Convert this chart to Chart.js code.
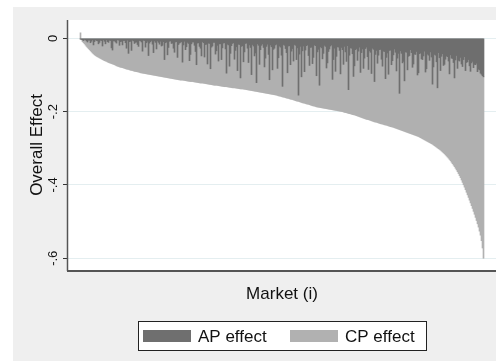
<!DOCTYPE html>
<html>
<head>
<meta charset="utf-8">
<script src="https://cdn.jsdelivr.net/npm/chart.js@4/dist/chart.umd.min.js"></script>
<style>
  html, body { margin: 0; padding: 0; background: #ffffff; }
  canvas { display: block; }
</style>
</head>
<body>
<canvas id="effectChart" width="496" height="361"></canvas>
<script>
// Overall effect per market (sorted)
const overallEffect = [
   0.015, -0.004, -0.009, -0.012, -0.015, -0.0185, -0.022, -0.025, -0.028, -0.031,
  -0.034, -0.037, -0.040, -0.0425, -0.045, -0.047, -0.049, -0.0505, -0.052, -0.0535,
  -0.055, -0.0565, -0.058, -0.0595, -0.061, -0.062, -0.063, -0.0645, -0.066, -0.067,
  -0.068, -0.069, -0.070, -0.071, -0.072, -0.0735, -0.075, -0.076, -0.077, -0.078,
  -0.079, -0.0795, -0.080, -0.081, -0.082, -0.083, -0.084, -0.0845, -0.085, -0.086,
  -0.087, -0.0875, -0.088, -0.089, -0.090, -0.0905, -0.091, -0.0915, -0.092, -0.093,
  -0.094, -0.0945, -0.095, -0.0955, -0.096, -0.0965, -0.097, -0.0975, -0.098, -0.0985,
  -0.099, -0.0995, -0.100, -0.1005, -0.101, -0.1015, -0.102, -0.1025, -0.103, -0.1035,
  -0.104, -0.1045, -0.105, -0.1055, -0.106, -0.1065, -0.107, -0.1075, -0.108, -0.1085,
  -0.109, -0.1095, -0.110, -0.1105, -0.111, -0.1115, -0.112, -0.1125, -0.113, -0.1135,
  -0.114, -0.114, -0.114, -0.1145, -0.115, -0.1155, -0.116, -0.1165, -0.117, -0.1175,
  -0.118, -0.118, -0.118, -0.1185, -0.119, -0.1195, -0.120, -0.1205, -0.121, -0.1215,
  -0.122, -0.122, -0.122, -0.1225, -0.123, -0.1235, -0.124, -0.1245, -0.125, -0.1255,
  -0.126, -0.1265, -0.127, -0.1275, -0.128, -0.128, -0.128, -0.1285, -0.129, -0.1295,
  -0.130, -0.1305, -0.131, -0.1315, -0.132, -0.132, -0.132, -0.1325, -0.133, -0.1335,
  -0.134, -0.1345, -0.135, -0.135, -0.135, -0.1355, -0.136, -0.1365, -0.137, -0.1375,
  -0.138, -0.138, -0.138, -0.1385, -0.139, -0.1395, -0.140, -0.1405, -0.141, -0.1415,
  -0.142, -0.1425, -0.143, -0.1435, -0.144, -0.1445, -0.145, -0.1455, -0.146, -0.1465,
  -0.147, -0.1475, -0.148, -0.1485, -0.149, -0.1495, -0.150, -0.1505, -0.151, -0.1515,
  -0.152, -0.1525, -0.153, -0.1535, -0.154, -0.1545, -0.155, -0.156, -0.157, -0.1575,
  -0.158, -0.159, -0.160, -0.1605, -0.161, -0.162, -0.163, -0.1635, -0.164, -0.165,
  -0.166, -0.1665, -0.167, -0.168, -0.169, -0.170, -0.171, -0.1715, -0.172, -0.173,
  -0.174, -0.175, -0.176, -0.1765, -0.177, -0.178, -0.179, -0.1795, -0.180, -0.181,
  -0.182, -0.183, -0.184, -0.1845, -0.185, -0.186, -0.187, -0.1875, -0.188, -0.1885,
  -0.189, -0.1895, -0.190, -0.1905, -0.191, -0.1915, -0.192, -0.1925, -0.193, -0.1935,
  -0.194, -0.1945, -0.195, -0.1955, -0.196, -0.1965, -0.197, -0.1975, -0.198, -0.1985,
  -0.199, -0.1995, -0.200, -0.201, -0.202, -0.2025, -0.203, -0.204, -0.205, -0.2055,
  -0.206, -0.207, -0.208, -0.2085, -0.209, -0.210, -0.211, -0.212, -0.213, -0.214,
  -0.215, -0.216, -0.217, -0.218, -0.219, -0.220, -0.221, -0.2215, -0.222, -0.223,
  -0.224, -0.225, -0.226, -0.227, -0.228, -0.2285, -0.229, -0.230, -0.231, -0.232,
  -0.233, -0.2335, -0.234, -0.235, -0.236, -0.2365, -0.237, -0.238, -0.239, -0.240,
  -0.241, -0.2415, -0.242, -0.243, -0.244, -0.245, -0.246, -0.247, -0.248, -0.249,
  -0.250, -0.251, -0.252, -0.253, -0.254, -0.255, -0.256, -0.257, -0.258, -0.259,
  -0.260, -0.261, -0.262, -0.263, -0.264, -0.265, -0.266, -0.267, -0.268, -0.2695,
  -0.271, -0.2725, -0.274, -0.2755, -0.277, -0.2785, -0.280, -0.2815, -0.283, -0.2845,
  -0.286, -0.2875, -0.289, -0.291, -0.293, -0.295, -0.297, -0.299, -0.301, -0.303,
  -0.305, -0.3075, -0.310, -0.3125, -0.315, -0.318, -0.321, -0.324, -0.327, -0.3305,
  -0.334, -0.338, -0.342, -0.346, -0.350, -0.3545, -0.359, -0.364, -0.369, -0.3745,
  -0.380, -0.3865, -0.393, -0.3995, -0.406, -0.413, -0.420, -0.427, -0.434, -0.4415,
  -0.449, -0.4565, -0.464, -0.472, -0.480, -0.4885, -0.497, -0.506, -0.515, -0.526,
  -0.537, -0.552, -0.572, -0.600
];

// AP effect per market (dark part at the top of each bar)
const apEffect = [
  -0.002, -0.003, -0.004, -0.006, -0.003, -0.004, -0.007, -0.010, -0.005, -0.005,
  -0.012, -0.008, -0.004, -0.018, -0.009, -0.004, -0.006, -0.007, -0.015, -0.011,
  -0.005, -0.006, -0.021, -0.004, -0.008, -0.015, -0.004, -0.009, -0.011, -0.005,
  -0.006, -0.026, -0.032, -0.007, -0.007, -0.010, -0.013, -0.004, -0.005, -0.019,
  -0.009, -0.008, -0.018, -0.006, -0.006, -0.012, -0.027, -0.005, -0.041, -0.009,
  -0.008, -0.033, -0.005, -0.007, -0.014, -0.011, -0.010, -0.017, -0.022, -0.006,
  -0.007, -0.010, -0.035, -0.005, -0.006, -0.024, -0.012, -0.008, -0.047, -0.013,
  -0.009, -0.006, -0.016, -0.039, -0.007, -0.011, -0.029, -0.007, -0.011, -0.016,
  -0.008, -0.021, -0.019, -0.009, -0.058, -0.012, -0.010, -0.045, -0.025, -0.008,
  -0.007, -0.014, -0.013, -0.027, -0.038, -0.010, -0.009, -0.052, -0.017, -0.013,
  -0.011, -0.009, -0.065, -0.018, -0.008, -0.031, -0.023, -0.011, -0.014, -0.061,
  -0.044, -0.015, -0.010, -0.010, -0.019, -0.036, -0.072, -0.013, -0.012, -0.022,
  -0.027, -0.048, -0.009, -0.012, -0.051, -0.017, -0.016, -0.070, -0.013, -0.014,
  -0.083, -0.024, -0.021, -0.011, -0.011, -0.043, -0.034, -0.019, -0.062, -0.015,
  -0.015, -0.058, -0.026, -0.013, -0.012, -0.029, -0.095, -0.016, -0.018, -0.076,
  -0.041, -0.020, -0.014, -0.012, -0.057, -0.033, -0.023, -0.088, -0.016, -0.017,
  -0.108, -0.022, -0.020, -0.064, -0.037, -0.014, -0.013, -0.027, -0.066, -0.018,
  -0.025, -0.099, -0.017, -0.021, -0.048, -0.040, -0.121, -0.015, -0.019, -0.071,
  -0.031, -0.019, -0.015, -0.025, -0.078, -0.054, -0.022, -0.016, -0.044, -0.113,
  -0.018, -0.023, -0.086, -0.030, -0.027, -0.018, -0.016, -0.082, -0.053, -0.021,
  -0.024, -0.046, -0.131, -0.017, -0.019, -0.028, -0.039, -0.094, -0.021, -0.020,
  -0.072, -0.035, -0.028, -0.062, -0.017, -0.019, -0.058, -0.026, -0.155, -0.043,
  -0.022, -0.105, -0.034, -0.021, -0.091, -0.032, -0.020, -0.018, -0.047, -0.074,
  -0.025, -0.024, -0.069, -0.052, -0.018, -0.020, -0.102, -0.037, -0.030, -0.128,
  -0.023, -0.026, -0.056, -0.041, -0.019, -0.022, -0.081, -0.067, -0.036, -0.029,
  -0.021, -0.018, -0.112, -0.058, -0.027, -0.090, -0.049, -0.023, -0.024, -0.033,
  -0.097, -0.025, -0.031, -0.071, -0.022, -0.037, -0.063, -0.020, -0.140, -0.046,
  -0.026, -0.027, -0.042, -0.104, -0.075, -0.031, -0.028, -0.060, -0.035, -0.024,
  -0.093, -0.039, -0.029, -0.082, -0.054, -0.028, -0.024, -0.050, -0.085, -0.034,
  -0.038, -0.096, -0.027, -0.030, -0.118, -0.044, -0.033, -0.068, -0.046, -0.031,
  -0.030, -0.057, -0.076, -0.035, -0.036, -0.110, -0.052, -0.040, -0.098, -0.033,
  -0.032, -0.072, -0.061, -0.045, -0.029, -0.038, -0.089, -0.054, -0.041, -0.150,
  -0.034, -0.041, -0.067, -0.063, -0.116, -0.037, -0.038, -0.086, -0.049, -0.047,
  -0.031, -0.039, -0.079, -0.070, -0.043, -0.044, -0.036, -0.100, -0.094, -0.042,
  -0.040, -0.056, -0.058, -0.048, -0.035, -0.092, -0.083, -0.043, -0.046, -0.060,
  -0.037, -0.051, -0.125, -0.078, -0.044, -0.046, -0.064, -0.135, -0.039, -0.053,
  -0.088, -0.049, -0.042, -0.074, -0.071, -0.057, -0.048, -0.050, -0.062, -0.097,
  -0.045, -0.054, -0.055, -0.066, -0.108, -0.059, -0.047, -0.082, -0.060, -0.062,
  -0.052, -0.070, -0.077, -0.058, -0.050, -0.088, -0.066, -0.064, -0.058, -0.075,
  -0.090, -0.067, -0.063, -0.080, -0.071, -0.072, -0.068, -0.091, -0.084, -0.086,
  -0.095, -0.098, -0.102, -0.105
];

const yTicks = [0, -0.2, -0.4, -0.6];
const yTickLabels = ['0', '-.2', '-.4', '-.6'];

const apColor = '#6f6f6f';
const cpColor = '#b1b1b1';
const FONT = '"Liberation Sans", Arial, sans-serif';

Chart.defaults.font.family = FONT;

// background, titles, tick labels, legend (Stata-like frame)
const frame = {
    id: 'frame',
    beforeDraw(chart) {
        const c = chart.ctx, a = chart.chartArea;
        c.save();
        c.fillStyle = '#efefef';
        c.fillRect(13, 7, chart.width - 13, chart.height - 7);
        c.fillStyle = '#ffffff';
        c.fillRect(a.left, a.top, a.right - a.left, a.bottom - a.top);
        c.restore();
    },
    afterDraw(chart) {
        const c = chart.ctx, a = chart.chartArea, y = chart.scales.y;
        c.save();
        // axis lines
        c.strokeStyle = '#555555';
        c.lineWidth = 1.5;
        c.beginPath();
        c.moveTo(a.left - 0.5, a.top);
        c.lineTo(a.left - 0.5, a.bottom + 1);
        c.stroke();
        c.lineWidth = 2;
        c.beginPath();
        c.moveTo(a.left - 1, a.bottom + 1);
        c.lineTo(a.right, a.bottom + 1);
        c.stroke();

        c.fillStyle = '#111111';
        // y tick labels, rotated like the original
        c.font = '13px ' + FONT;
        c.textAlign = 'center';
        c.textBaseline = 'middle';
        yTicks.forEach((v, i) => {
            c.save();
            c.translate(53, y.getPixelForValue(v));
            c.rotate(-Math.PI / 2);
            c.fillText(yTickLabels[i], 0, 0);
            c.restore();
        });
        // axis titles
        c.font = '17px ' + FONT;
        c.save();
        c.translate(37, (a.top + a.bottom) / 2);
        c.rotate(-Math.PI / 2);
        c.fillText('Overall Effect', 0, 0);
        c.restore();
        c.fillText('Market (i)', (a.left + a.right) / 2, 294);

        // legend box
        c.fillStyle = '#ffffff';
        c.fillRect(138, 321, 288, 29);
        c.strokeStyle = '#222222';
        c.lineWidth = 1;
        c.strokeRect(138.5, 321.5, 288, 29);
        const items = [
            { ds: chart.data.datasets[0], x: 143 },
            { ds: chart.data.datasets[1], x: 290 }
        ];
        c.textAlign = 'left';
        items.forEach(it => {
            c.fillStyle = it.ds.backgroundColor;
            c.fillRect(it.x, 330, 48, 12);
            c.fillStyle = '#111111';
            c.fillText(it.ds.label, it.x + 55, 337);
        });
        c.restore();
    }
};

const ctx = document.getElementById('effectChart').getContext('2d');
const effectChart = new Chart(ctx, {
    type: 'bar',
    data: {
        datasets: [{
            label: 'AP effect',
            data: apEffect.map((v, i) => ({ x: i, y: v })),
            backgroundColor: apColor,
            order: 0
        }, {
            label: 'CP effect',
            data: apEffect.map((v, i) => ({ x: i, y: [v, overallEffect[i]] })),
            backgroundColor: cpColor,
            order: 1
        }]
    },
    options: {
        responsive: false,
        animation: false,
        datasets: {
            bar: {
                grouped: false,
                barPercentage: 1,
                categoryPercentage: 1,
                borderWidth: 0
            }
        },
        layout: {
            padding: { left: 63, top: 20, right: 0, bottom: 91 }
        },
        plugins: {
            legend: { display: false },
            tooltip: { enabled: false }
        },
        scales: {
            x: {
                type: 'linear',
                display: false,
                offset: false,
                min: -12.5,
                max: 415.5
            },
            y: {
                min: -0.632,
                max: 0.05,
                afterBuildTicks: scale => {
                    scale.ticks = yTicks.map(v => ({ value: v }));
                },
                ticks: { display: false },
                border: { display: false },
                grid: {
                    color: '#e4eef0',
                    lineWidth: 1,
                    drawTicks: true,
                    tickLength: 5,
                    tickColor: '#333333'
                }
            }
        }
    },
    plugins: [frame]
});
</script>
</body>
</html>
